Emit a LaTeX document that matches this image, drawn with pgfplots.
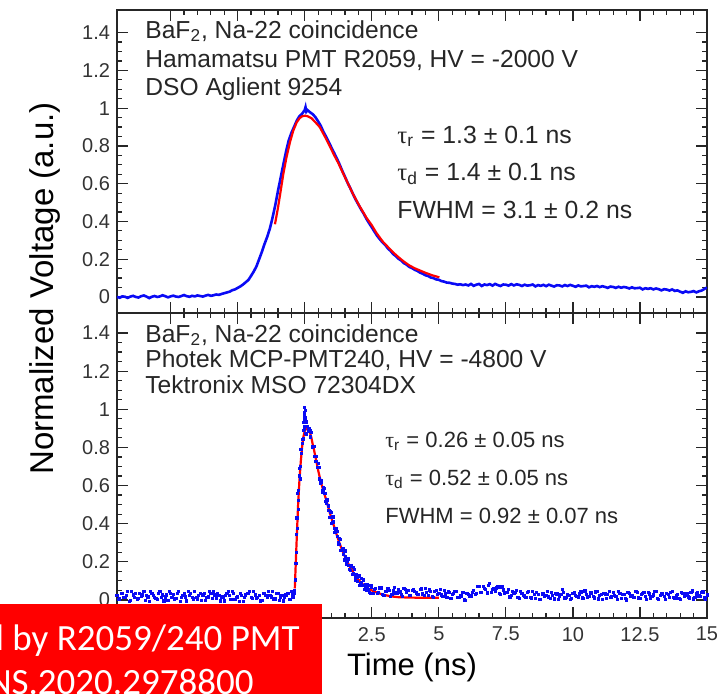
\documentclass[border=0pt]{standalone}
\usepackage{fontspec}
\setmainfont{Liberation Sans}
\newfontfamily\carlito{Carlito}
\newfontfamily\serifg{Liberation Serif}
\usepackage{pgfplots}
\pgfplotsset{compat=1.18}
\definecolor{pblue}{RGB}{10,10,245}
\definecolor{pred}{RGB}{255,0,0}
\definecolor{boxred}{RGB}{255,0,0}
\pgfplotsset{rootstyle/.style={
  scale only axis, width=295pt,
  xmin=-7, xmax=15,
  xtick={-5,-2.5,0,2.5,5,7.5,10,12.5,15},
  minor x tick num=4,
  ytick={0,0.2,0.4,0.6,0.8,1,1.2,1.4},
  minor y tick num=3,
  tick align=inside,
  tick pos=both,
  ticklabel pos=left,
  major tick length=5.5pt, minor tick length=2.5pt,
  axis line style={line width=0.9pt, black!85},
  every tick/.style={black!85, line width=0.6pt},
  tick label style={font=\fontsize{10}{12}\selectfont, text=black!80},
  /pgf/number format/assume math mode=true,
}}
\begin{document}
\begin{tikzpicture}
% ---------------- bottom panel ----------------
\begin{axis}[rootstyle, at={(0,0)}, anchor=south west, height=152.5pt,
  ymin=-0.095, ymax=1.505,
  xticklabels={,,,2.5,5,7.5,10,12.5,15},
  xticklabel style={yshift=-1pt}]
% baseline dots
\addplot[only marks, mark=square*, mark size=0.55pt, pblue] coordinates {
(-7.0,0.025)(-6.9,0.005)(-6.8,0.036)(-6.7,0.013)(-6.6,0.044)(-6.5,-0.004)(-6.4,0.026)(-6.3,0.033)(-6.2,0.006)(-6.1,0.017)
(-6.0,0.045)(-5.9,0.024)(-5.8,-0.006)(-5.7,0.035)(-5.6,0.014)(-5.5,0.004)(-5.4,0.046)(-5.3,0.026)(-5.2,0.016)(-5.1,-0.004)
(-5.0,0.034)(-4.9,0.027)(-4.8,0.006)(-4.7,0.044)(-4.6,0.015)(-4.5,0.036)(-4.4,-0.005)(-4.3,0.024)(-4.2,0.014)(-4.1,0.046)
(-4.0,0.005)(-3.9,0.034)(-3.8,0.026)(-3.7,-0.004)(-3.6,0.016)(-3.5,0.035)(-3.4,0.044)(-3.3,0.006)(-3.2,0.025)(-3.1,0.013)
(-3.0,-0.005)(-2.9,0.036)(-2.8,0.024)(-2.7,0.045)(-2.6,0.004)(-2.5,0.016)(-2.4,0.034)(-2.3,-0.006)(-2.2,0.026)(-2.1,0.035)
(-2.0,0.014)(-1.9,0.044)(-1.8,0.006)(-1.7,0.025)(-1.6,-0.004)(-1.5,0.036)(-1.4,0.015)(-1.3,0.024)(-1.2,0.045)(-1.1,0.005)
(-1.0,0.034)(-0.9,0.016)(-0.8,-0.005)(-0.7,0.026)(-0.6,0.035)(-0.5,0.044)
(-6.95,0.004)(-6.85,0.036)(-6.75,0.015)(-6.65,0.024)(-6.55,-0.006)(-6.45,0.045)(-6.35,0.014)(-6.25,0.005)(-6.15,0.034)(-6.05,0.026)
(-5.95,-0.004)(-5.85,0.016)(-5.75,0.044)(-5.65,0.025)(-5.55,0.006)(-5.45,0.035)(-5.35,0.013)(-5.25,-0.005)(-5.15,0.026)(-5.05,0.046)
(-4.95,0.015)(-4.85,0.004)(-4.75,0.034)(-4.65,-0.006)(-4.55,0.024)(-4.45,0.016)(-4.35,0.045)(-4.25,0.036)(-4.15,0.005)(-4.05,0.014)
(-3.95,0.025)(-3.85,-0.004)(-3.75,0.035)(-3.65,0.015)(-3.55,0.044)(-3.45,0.006)(-3.35,0.026)(-3.25,0.034)(-3.15,-0.005)(-3.05,0.016)
(-2.95,0.024)(-2.85,0.046)(-2.75,0.004)(-2.65,0.036)(-2.55,0.014)(-2.45,-0.006)(-2.35,0.025)(-2.25,0.015)(-2.15,0.035)(-2.05,0.044)
(-1.95,0.006)(-1.85,0.026)(-1.75,0.013)(-1.65,-0.005)(-1.55,0.034)(-1.45,0.024)(-1.35,0.045)(-1.25,0.016)(-1.15,0.005)(-1.05,0.036)
(-0.95,-0.004)(-0.85,0.025)(-0.75,0.014)(-0.65,0.034)(-0.55,0.004)(-0.45,0.026)
};
% peak region dots
\addplot[only marks, mark=square*, mark size=0.55pt, pblue] coordinates {
(-0.40,0.050)(-0.35,0.105)(-0.30,0.345)(-0.25,0.475)(-0.20,0.650)(-0.15,0.700)(-0.10,0.840)(-0.05,0.845)(0.00,0.910)(0.05,0.870)
(0.10,0.912)(0.15,0.895)(0.20,0.855)(0.25,0.880)(0.30,0.805)(0.35,0.805)(0.40,0.725)(0.45,0.725)(0.50,0.715)(0.55,0.635)
(0.60,0.625)(0.65,0.565)(0.70,0.590)(0.75,0.558)(0.80,0.505)(0.85,0.525)(0.90,0.470)(0.95,0.465)(1.00,0.403)(1.05,0.435)
(1.10,0.373)(1.15,0.365)(1.20,0.358)(1.25,0.303)(1.30,0.322)(1.35,0.258)(1.40,0.270)(1.45,0.238)(1.50,0.257)(1.55,0.187)
(1.60,0.212)(1.65,0.183)(1.70,0.155)(1.75,0.178)(1.80,0.136)(1.85,0.160)(1.90,0.105)(1.95,0.121)(2.00,0.122)(2.05,0.074)
(2.10,0.111)(2.15,0.074)(2.20,0.108)(2.25,0.067)(2.30,0.052)(2.35,0.072)(2.40,0.077)(2.45,0.033)(2.50,0.065)
(-0.375,0.035)(-0.325,0.250)(-0.275,0.375)(-0.225,0.575)(-0.175,0.635)(-0.125,0.770)(-0.075,0.823)(-0.025,0.895)(0.025,0.873)(0.075,0.934)
(0.125,0.884)(0.175,0.898)(0.225,0.888)(0.275,0.803)(0.325,0.805)(0.375,0.753)(0.425,0.753)(0.475,0.693)(0.525,0.695)(0.575,0.610)
(0.625,0.618)(0.675,0.573)(0.725,0.584)(0.775,0.517)(0.825,0.528)(0.875,0.493)(0.925,0.433)(0.975,0.459)(1.025,0.407)(1.075,0.409)
(1.125,0.352)(1.175,0.374)(1.225,0.333)(1.275,0.293)(1.325,0.318)(1.375,0.259)(1.425,0.272)(1.475,0.210)(1.525,0.230)(1.575,0.205)
(1.625,0.215)(1.675,0.162)(1.725,0.179)(1.775,0.132)(1.825,0.171)(1.875,0.125)(1.925,0.131)(1.975,0.097)(2.025,0.128)(2.075,0.085)
(2.125,0.093)(2.175,0.101)(2.225,0.055)(2.275,0.080)(2.325,0.080)(2.375,0.055)(2.425,0.040)(2.475,0.077)
(-0.04,0.930)(-0.02,0.970)(-0.01,1.010)(0.00,0.985)(0.01,0.950)(0.02,0.995)(0.035,0.955)(-0.06,0.890)(0.06,0.930)
(-0.33,0.190)(-0.29,0.430)(-0.26,0.560)(-0.23,0.520)(-0.19,0.690)(-0.14,0.790)(-0.09,0.820)(-0.42,0.030)(-0.44,0.012)
};
% tail dots
\addplot[only marks, mark=square*, mark size=0.55pt, pblue] coordinates {
(2.6,0.057)(2.7,0.036)(2.8,0.063)(2.9,0.027)(3.0,0.043)(3.1,0.058)(3.2,0.020)(3.3,0.047)(3.4,0.037)(3.5,0.055)
(3.6,0.028)(3.7,0.062)(3.8,0.040)(3.9,0.022)(4.0,0.048)(4.1,0.043)(4.2,0.028)(4.3,0.055)(4.4,0.032)(4.5,0.062)
(4.6,0.022)(4.7,0.044)(4.8,0.013)(4.9,0.048)(5.0,0.036)(5.1,0.026)(5.2,0.051)(5.3,0.015)(5.4,0.041)(5.5,0.028)
(5.6,0.044)(5.7,0.014)(5.8,0.024)(5.9,0.038)(6.0,-0.004)(6.1,0.027)(6.2,0.021)(6.3,0.049)(6.4,0.033)(6.5,0.071)
(6.6,0.039)(6.7,0.062)(6.8,0.037)(6.9,0.088)(7.0,0.057)(7.1,0.047)(7.2,0.068)(7.3,0.029)(7.4,0.052)(7.5,0.039)
(7.6,0.053)(7.7,0.024)(7.8,0.036)(7.9,0.051)(8.0,0.009)(8.1,0.035)(8.2,0.021)(8.3,0.038)(8.4,0.014)(8.5,0.045)
(8.6,0.009)(8.7,0.028)(8.8,0.001)(8.9,0.034)(9.0,0.023)(9.1,0.016)(9.2,0.040)(9.3,0.005)(9.4,0.032)(9.5,0.021)
(9.6,0.057)(9.7,0.010)(9.8,0.030)(9.9,0.002)(10.0,0.035)(10.1,0.025)(10.2,0.014)(10.3,0.042)(10.4,0.007)(10.5,0.029)
(10.6,0.019)(10.7,0.037)(10.8,0.010)(10.9,0.044)(11.0,0.022)(11.1,0.004)(11.2,0.032)(11.3,0.027)(11.4,0.012)(11.5,0.039)
(11.6,0.017)(11.7,0.046)(11.8,0.008)(11.9,0.030)(12.0,0.000)(12.1,0.035)(12.2,0.024)(12.3,0.015)(12.4,0.041)(12.5,0.006)
(12.6,0.033)(12.7,0.020)(12.8,0.038)(12.9,0.011)(13.0,0.026)(13.1,0.043)(13.2,0.003)(13.3,0.031)(13.4,0.018)(13.5,0.036)
(13.6,0.013)(13.7,0.045)(13.8,0.009)(13.9,0.028)(14.0,0.001)(14.1,0.034)(14.2,0.023)(14.3,0.016)(14.4,0.040)(14.5,0.005)
(14.6,0.032)(14.7,0.021)(14.8,0.038)(14.9,0.011)(15.0,0.026)
(2.55,0.036)(2.65,0.060)(2.75,0.041)(2.85,0.063)(2.95,0.024)(3.05,0.046)(3.15,0.051)(3.25,0.027)(3.35,0.064)(3.45,0.034)
(3.55,0.042)(3.65,0.020)(3.75,0.053)(3.85,0.048)(3.95,0.024)(4.05,0.056)(4.15,0.037)(4.25,0.029)(4.35,0.058)(4.45,0.025)
(4.55,0.041)(4.65,0.052)(4.75,0.017)(4.85,0.044)(4.95,0.030)(5.05,0.055)(5.15,0.018)(5.25,0.032)(5.35,0.042)(5.45,0.009)
(5.55,0.036)(5.65,0.044)(5.75,0.014)(5.85,0.021)(5.95,0.000)(6.05,0.035)(6.15,0.018)(6.25,0.040)(6.35,0.027)(6.45,0.070)
(6.55,0.040)(6.65,0.069)(6.75,0.054)(6.85,0.078)(6.95,0.040)(7.05,0.061)(7.15,0.063)(7.25,0.035)(7.35,0.068)(7.45,0.035)
(7.55,0.040)(7.65,0.016)(7.75,0.046)(7.85,0.039)(7.95,0.014)(8.05,0.045)(8.15,0.024)(8.25,0.015)(8.35,0.044)(8.45,0.010)
(8.55,0.027)(8.65,0.038)(8.75,0.004)(8.85,0.031)(8.95,0.018)(9.05,0.044)(9.15,0.008)(9.25,0.023)(9.35,0.034)(9.45,0.001)
(9.55,0.029)(9.65,0.039)(9.75,0.014)(9.85,0.025)(9.95,0.006)(10.05,0.041)(10.15,0.020)(10.25,0.032)(10.35,0.011)(10.45,0.047)
(10.55,0.012)(10.65,0.037)(10.75,0.019)(10.85,0.042)(10.95,0.005)(11.05,0.028)(11.15,0.033)(11.25,0.009)(11.35,0.046)(11.45,0.016)
(11.55,0.024)(11.65,0.002)(11.75,0.035)(11.85,0.030)(11.95,0.007)(12.05,0.040)(12.15,0.021)(12.25,0.013)(12.35,0.043)(12.45,0.010)
(12.55,0.027)(12.65,0.038)(12.75,0.004)(12.85,0.031)(12.95,0.018)(13.05,0.044)(13.15,0.008)(13.25,0.023)(13.35,0.034)(13.45,0.001)
(13.55,0.029)(13.65,0.039)(13.75,0.014)(13.85,0.025)(13.95,0.006)(14.05,0.041)(14.15,0.020)(14.25,0.032)(14.35,0.011)(14.45,0.047)
(14.55,0.012)(14.65,0.037)(14.75,0.019)(14.85,0.042)(14.95,0.005)
};
% fit
\addplot[pred, line width=1.1pt] coordinates {
(-0.37,0.06)(-0.34,0.17)(-0.31,0.28)(-0.28,0.385)(-0.25,0.49)(-0.20,0.62)(-0.15,0.72)(-0.10,0.80)(-0.05,0.855)(0.00,0.885)
(0.05,0.90)(0.10,0.897)(0.15,0.89)(0.20,0.875)(0.25,0.85)(0.30,0.815)(0.35,0.785)(0.40,0.75)(0.45,0.715)(0.50,0.68)
(0.55,0.65)(0.60,0.62)(0.65,0.595)(0.70,0.57)(0.75,0.548)(0.80,0.525)(0.85,0.50)(0.90,0.475)(0.95,0.45)(1.00,0.428)
(1.05,0.405)(1.10,0.383)(1.15,0.36)(1.20,0.338)(1.25,0.318)(1.30,0.297)(1.35,0.278)(1.40,0.26)(1.45,0.243)(1.50,0.227)
(1.55,0.212)(1.60,0.197)(1.65,0.183)(1.70,0.170)(1.75,0.158)(1.80,0.146)(1.85,0.135)(1.90,0.125)(1.95,0.116)(2.00,0.107)
(2.05,0.099)(2.10,0.091)(2.15,0.084)(2.20,0.078)(2.25,0.072)(2.30,0.067)(2.35,0.062)(2.40,0.057)(2.45,0.053)(2.50,0.05)
(2.60,0.044)(2.75,0.035)(3.00,0.025)(3.25,0.018)(3.50,0.014)(4.00,0.012)(4.50,0.011)(5.00,0.011)
};
\end{axis}
% ---------------- top panel ----------------
\begin{axis}[rootstyle, at={(0,152.5pt)}, anchor=south west, height=151.5pt,
  ymin=-0.085, ymax=1.52, xticklabels={}]
\addplot[pblue, line width=1.3pt] coordinates {
(-7.0,0.000)(-6.9,-0.004)(-6.8,0.003)(-6.7,0.001)(-6.6,-0.005)(-6.5,0.002)(-6.4,0.006)(-6.3,0.000)(-6.2,-0.003)(-6.1,0.004)
(-6.0,0.008)(-5.9,0.002)(-5.8,-0.006)(-5.7,0.001)(-5.6,0.005)(-5.5,0.000)(-5.4,0.003)(-5.3,0.009)(-5.2,0.004)(-5.1,-0.002)
(-5.0,0.003)(-4.9,0.007)(-4.8,0.002)(-4.7,0.000)(-4.6,0.005)(-4.5,0.010)(-4.4,0.004)(-4.3,0.001)(-4.2,0.006)(-4.1,0.003)
(-4.0,0.008)(-3.9,0.005)(-3.8,0.002)(-3.7,0.007)(-3.6,0.011)(-3.5,0.006)(-3.4,0.009)(-3.3,0.013)(-3.2,0.011)(-3.1,0.016)
(-3.0,0.020)(-2.9,0.024)(-2.8,0.028)(-2.7,0.036)(-2.6,0.040)(-2.5,0.048)(-2.4,0.056)(-2.3,0.066)(-2.2,0.078)(-2.1,0.090)
(-2.0,0.112)(-1.9,0.135)(-1.8,0.162)(-1.7,0.200)(-1.6,0.238)(-1.5,0.280)(-1.4,0.318)(-1.3,0.362)(-1.2,0.420)(-1.1,0.485)
(-1.0,0.560)(-0.9,0.630)(-0.8,0.700)(-0.7,0.768)(-0.6,0.828)(-0.5,0.868)(-0.4,0.900)(-0.3,0.933)(-0.2,0.957)(-0.1,0.970)
(0.0,0.990)(0.03,1.005)(0.06,0.982)(0.1,0.990)(0.2,0.978)(0.3,0.968)(0.4,0.952)(0.5,0.930)(0.6,0.906)(0.7,0.874)
(0.8,0.848)(0.9,0.820)(1.0,0.790)(1.1,0.762)(1.2,0.733)(1.3,0.702)(1.4,0.668)(1.5,0.637)(1.6,0.604)(1.7,0.576)
(1.8,0.545)(1.9,0.516)(2.0,0.490)(2.1,0.464)(2.2,0.441)(2.3,0.414)(2.4,0.391)(2.5,0.369)(2.6,0.346)(2.7,0.324)
(2.8,0.306)(2.9,0.289)(3.0,0.276)(3.1,0.257)(3.2,0.244)(3.3,0.227)(3.4,0.216)(3.5,0.202)(3.6,0.193)(3.7,0.179)
(3.8,0.171)(3.9,0.159)(4.0,0.153)(4.1,0.144)(4.2,0.138)(4.3,0.129)(4.4,0.123)(4.5,0.115)(4.6,0.111)(4.7,0.103)
(4.8,0.100)(4.9,0.093)(5.0,0.091)(5.1,0.084)(5.2,0.081)(5.3,0.076)(5.4,0.075)(5.5,0.071)(5.6,0.069)(5.7,0.065)
(5.8,0.067)(5.9,0.063)
(6.0,0.066)(6.1,0.061)(6.2,0.069)(6.3,0.059)(6.4,0.065)(6.5,0.069)(6.6,0.058)(6.7,0.066)(6.8,0.063)(6.9,0.068)
(7.0,0.060)(7.1,0.069)(7.2,0.063)(7.3,0.058)(7.4,0.066)(7.5,0.065)(7.6,0.060)(7.7,0.068)(7.8,0.061)(7.9,0.067)
(8.0,0.064)(8.1,0.058)(8.2,0.065)(8.3,0.060)(8.4,0.062)(8.5,0.066)(8.6,0.056)(8.7,0.063)(8.8,0.059)(8.9,0.064)
(9.0,0.057)(9.1,0.065)(9.2,0.060)(9.3,0.055)(9.4,0.062)(9.5,0.061)(9.6,0.056)(9.7,0.063)(9.8,0.058)(9.9,0.064)
(10.0,0.059)(10.1,0.054)(10.2,0.061)(10.3,0.056)(10.4,0.058)(10.5,0.060)(10.6,0.051)(10.7,0.057)(10.8,0.054)(10.9,0.058)
(11.0,0.052)(11.1,0.057)(11.2,0.053)(11.3,0.048)(11.4,0.055)(11.5,0.053)(11.6,0.048)(11.7,0.054)(11.8,0.049)(11.9,0.053)
(12.0,0.050)(12.1,0.045)(12.2,0.051)(12.3,0.046)(12.4,0.047)(12.5,0.049)(12.6,0.040)(12.7,0.046)(12.8,0.043)(12.9,0.046)
(13.0,0.040)(13.1,0.045)(13.2,0.041)(13.3,0.035)(13.4,0.041)(13.5,0.039)(13.6,0.034)(13.7,0.040)(13.8,0.032)(13.9,0.035)
(14.0,0.028)(14.1,0.022)(14.2,0.030)(14.3,0.025)(14.4,0.027)(14.5,0.031)(14.6,0.024)(14.7,0.030)(14.8,0.034)(14.9,0.042)
(15.0,0.050)
};
\addplot[pred, line width=1.1pt] coordinates {
(-1.11,0.385)(-1.0,0.47)(-0.91,0.55)(-0.8,0.65)(-0.68,0.74)(-0.55,0.82)(-0.43,0.88)(-0.3,0.925)(-0.19,0.947)(-0.1,0.957)
(0.0,0.96)(0.1,0.958)(0.25,0.947)(0.4,0.925)(0.56,0.90)(0.75,0.85)(0.93,0.80)(1.1,0.75)(1.25,0.71)(1.43,0.655)
(1.6,0.605)(1.8,0.545)(2.05,0.48)(2.3,0.42)(2.5,0.38)(2.67,0.34)(2.9,0.295)(3.1,0.265)(3.29,0.237)(3.5,0.21)
(3.7,0.187)(3.9,0.167)(4.1,0.152)(4.3,0.14)(4.52,0.127)(4.75,0.115)(5.02,0.104)
};
\end{axis}
% ---------------- texts ----------------
\begin{scope}[every node/.style={inner sep=0pt, anchor=base west, text=black!85}]
\node[font=\fontsize{12.3}{14}\selectfont] at (14pt,290pt) {BaF\textsubscript{2}, Na-22 coincidence};
\node[font=\fontsize{12.3}{14}\selectfont] at (14pt,275.5pt) {Hamamatsu PMT R2059, HV = -2000 V};
\node[font=\fontsize{12.3}{14}\selectfont] at (14pt,261.5pt) {DSO Aglient 9254};
\node[font=\fontsize{12.4}{14}\selectfont] at (140pt,237.5pt) {{\serifg τ}\textsubscript{r} = 1.3 ± 0.1 ns};
\node[font=\fontsize{12.4}{14}\selectfont] at (140pt,219pt) {{\serifg τ}\textsubscript{d} = 1.4 ± 0.1 ns};
\node[font=\fontsize{12.4}{14}\selectfont] at (140pt,200pt) {FWHM = 3.1 ± 0.2 ns};
\node[font=\fontsize{12.3}{14}\selectfont] at (14pt,138pt) {BaF\textsubscript{2}, Na-22 coincidence};
\node[font=\fontsize{12.3}{14}\selectfont] at (14pt,125.5pt) {Photek MCP-PMT240, HV = -4800 V};
\node[font=\fontsize{12.3}{14}\selectfont] at (14pt,112.5pt) {Tektronix MSO 72304DX};
\node[font=\fontsize{11}{13}\selectfont] at (134pt,85.5pt) {{\serifg τ}\textsubscript{r} = 0.26 ± 0.05 ns};
\node[font=\fontsize{11}{13}\selectfont] at (134pt,66.5pt) {{\serifg τ}\textsubscript{d} = 0.52 ± 0.05 ns};
\node[font=\fontsize{11}{13}\selectfont] at (134pt,47.5pt) {FWHM = 0.92 ± 0.07 ns};
\end{scope}
\node[inner sep=0pt, anchor=base, rotate=90, font=\fontsize{16.5}{18}\selectfont] at (-32pt,164.75pt) {Normalized Voltage (a.u.)};
\node[inner sep=0pt, anchor=base, font=\fontsize{15.5}{18}\selectfont] at (147.5pt,-28.5pt) {Time (ns)};
% red overlay box
\fill[boxred] (-58.5pt,-38pt) rectangle (102.5pt,7pt);
\node[inner sep=0pt, anchor=base east, text=white, font=\carlito\fontsize{18.5}{20}\selectfont] at (91.5pt,-16.3pt) {d by R2059/240 PMT};
\node[inner sep=0pt, anchor=base east, text=white, font=\carlito\fontsize{18.5}{20}\selectfont] at (68.5pt,-38pt) {NS.2020.2978800};
\pgfresetboundingbox
\path[use as bounding box] (-58.5pt,-37.5pt) rectangle (300pt,309pt);
\end{tikzpicture}
\end{document}
